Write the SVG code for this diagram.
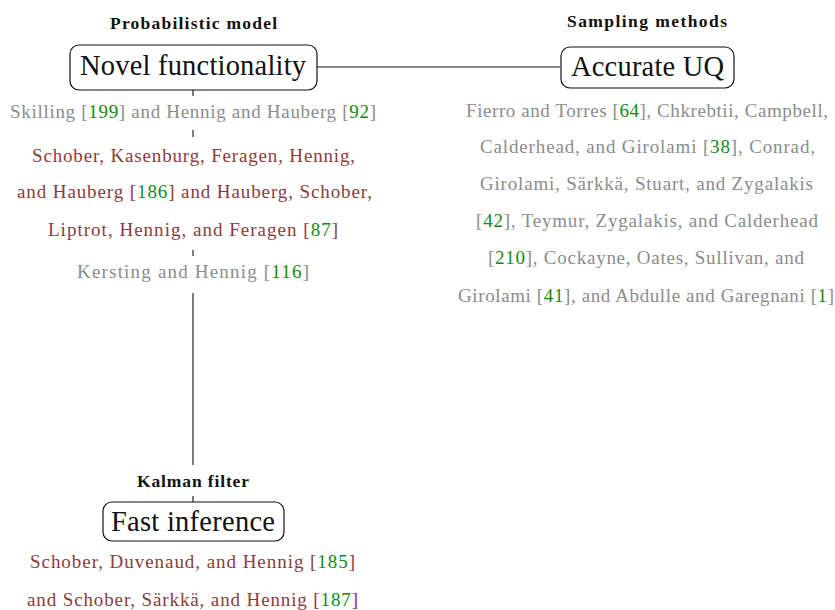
<svg xmlns="http://www.w3.org/2000/svg" width="835" height="610" viewBox="0 0 835 610">
<style>
text{font-family:"Liberation Serif","Times New Roman",serif;}
.lbl{font-weight:bold;font-size:17.5px;fill:#111;}
.node rect{fill:#fff;stroke:#111;stroke-width:1.2;}
.nt{font-size:28.5px;fill:#111;}
.ref{font-size:19px;}
.g{fill:#8c8c8c;}
.r{fill:#8a3c3c;}
.n{fill:#138a13;}
.conn line{stroke:#111;stroke-width:1.1;}
</style>
<g id="connectors" class="conn">
<line x1="317" y1="67" x2="560" y2="67"/>
<line x1="193" y1="90" x2="193" y2="96"/>
<line x1="193" y1="130" x2="193" y2="137"/>
<line x1="193" y1="250" x2="193" y2="256"/>
<line x1="193" y1="293" x2="193" y2="465"/>
<line x1="193" y1="496" x2="193" y2="502"/>
</g>
<g id="novel" class="node">
<text class="lbl" x="110" y="29" textLength="167">Probabilistic model</text>
<rect x="70" y="45" width="247" height="45" rx="9"/>
<text class="nt" x="80" y="75" textLength="226">Novel functionality</text>
<text class="ref g" x="10" y="118" textLength="366">Skilling [<tspan class="n">199</tspan>] and Hennig and Hauberg [<tspan class="n">92</tspan>]</text>
<text class="ref r" x="32" y="162" textLength="323">Schober, Kasenburg, Feragen, Hennig,</text>
<text class="ref r" x="17" y="198" textLength="355">and Hauberg [<tspan class="n">186</tspan>] and Hauberg, Schober,</text>
<text class="ref r" x="48" y="236" textLength="290">Liptrot, Hennig, and Feragen [<tspan class="n">87</tspan>]</text>
<text class="ref g" x="77" y="278" textLength="232">Kersting and Hennig [<tspan class="n">116</tspan>]</text>
</g>
<g id="accurate" class="node">
<text class="lbl" x="567" y="27" textLength="160">Sampling methods</text>
<rect x="561" y="47" width="173" height="41" rx="9"/>
<text class="nt" x="571" y="76" textLength="153">Accurate UQ</text>
<text class="ref g" x="466" y="117" textLength="362">Fierro and Torres [<tspan class="n">64</tspan>], Chkrebtii, Campbell,</text>
<text class="ref g" x="480" y="153" textLength="335">Calderhead, and Girolami [<tspan class="n">38</tspan>], Conrad,</text>
<text class="ref g" x="480" y="190" textLength="333">Girolami, Särkkä, Stuart, and Zygalakis</text>
<text class="ref g" x="476" y="227" textLength="342">[<tspan class="n">42</tspan>], Teymur, Zygalakis, and Calderhead</text>
<text class="ref g" x="488" y="264" textLength="316">[<tspan class="n">210</tspan>], Cockayne, Oates, Sullivan, and</text>
<text class="ref g" x="458" y="302" textLength="376">Girolami [<tspan class="n">41</tspan>], and Abdulle and Garegnani [<tspan class="n">1</tspan>]</text>
</g>
<g id="fast" class="node">
<text class="lbl" x="137" y="487" textLength="112">Kalman filter</text>
<rect x="103" y="502" width="181" height="39" rx="9"/>
<text class="nt" x="111" y="531" textLength="164">Fast inference</text>
<text class="ref r" x="30" y="568" textLength="325">Schober, Duvenaud, and Hennig [<tspan class="n">185</tspan>]</text>
<text class="ref r" x="27" y="606" textLength="331">and Schober, Särkkä, and Hennig [<tspan class="n">187</tspan>]</text>
</g>
</svg>
